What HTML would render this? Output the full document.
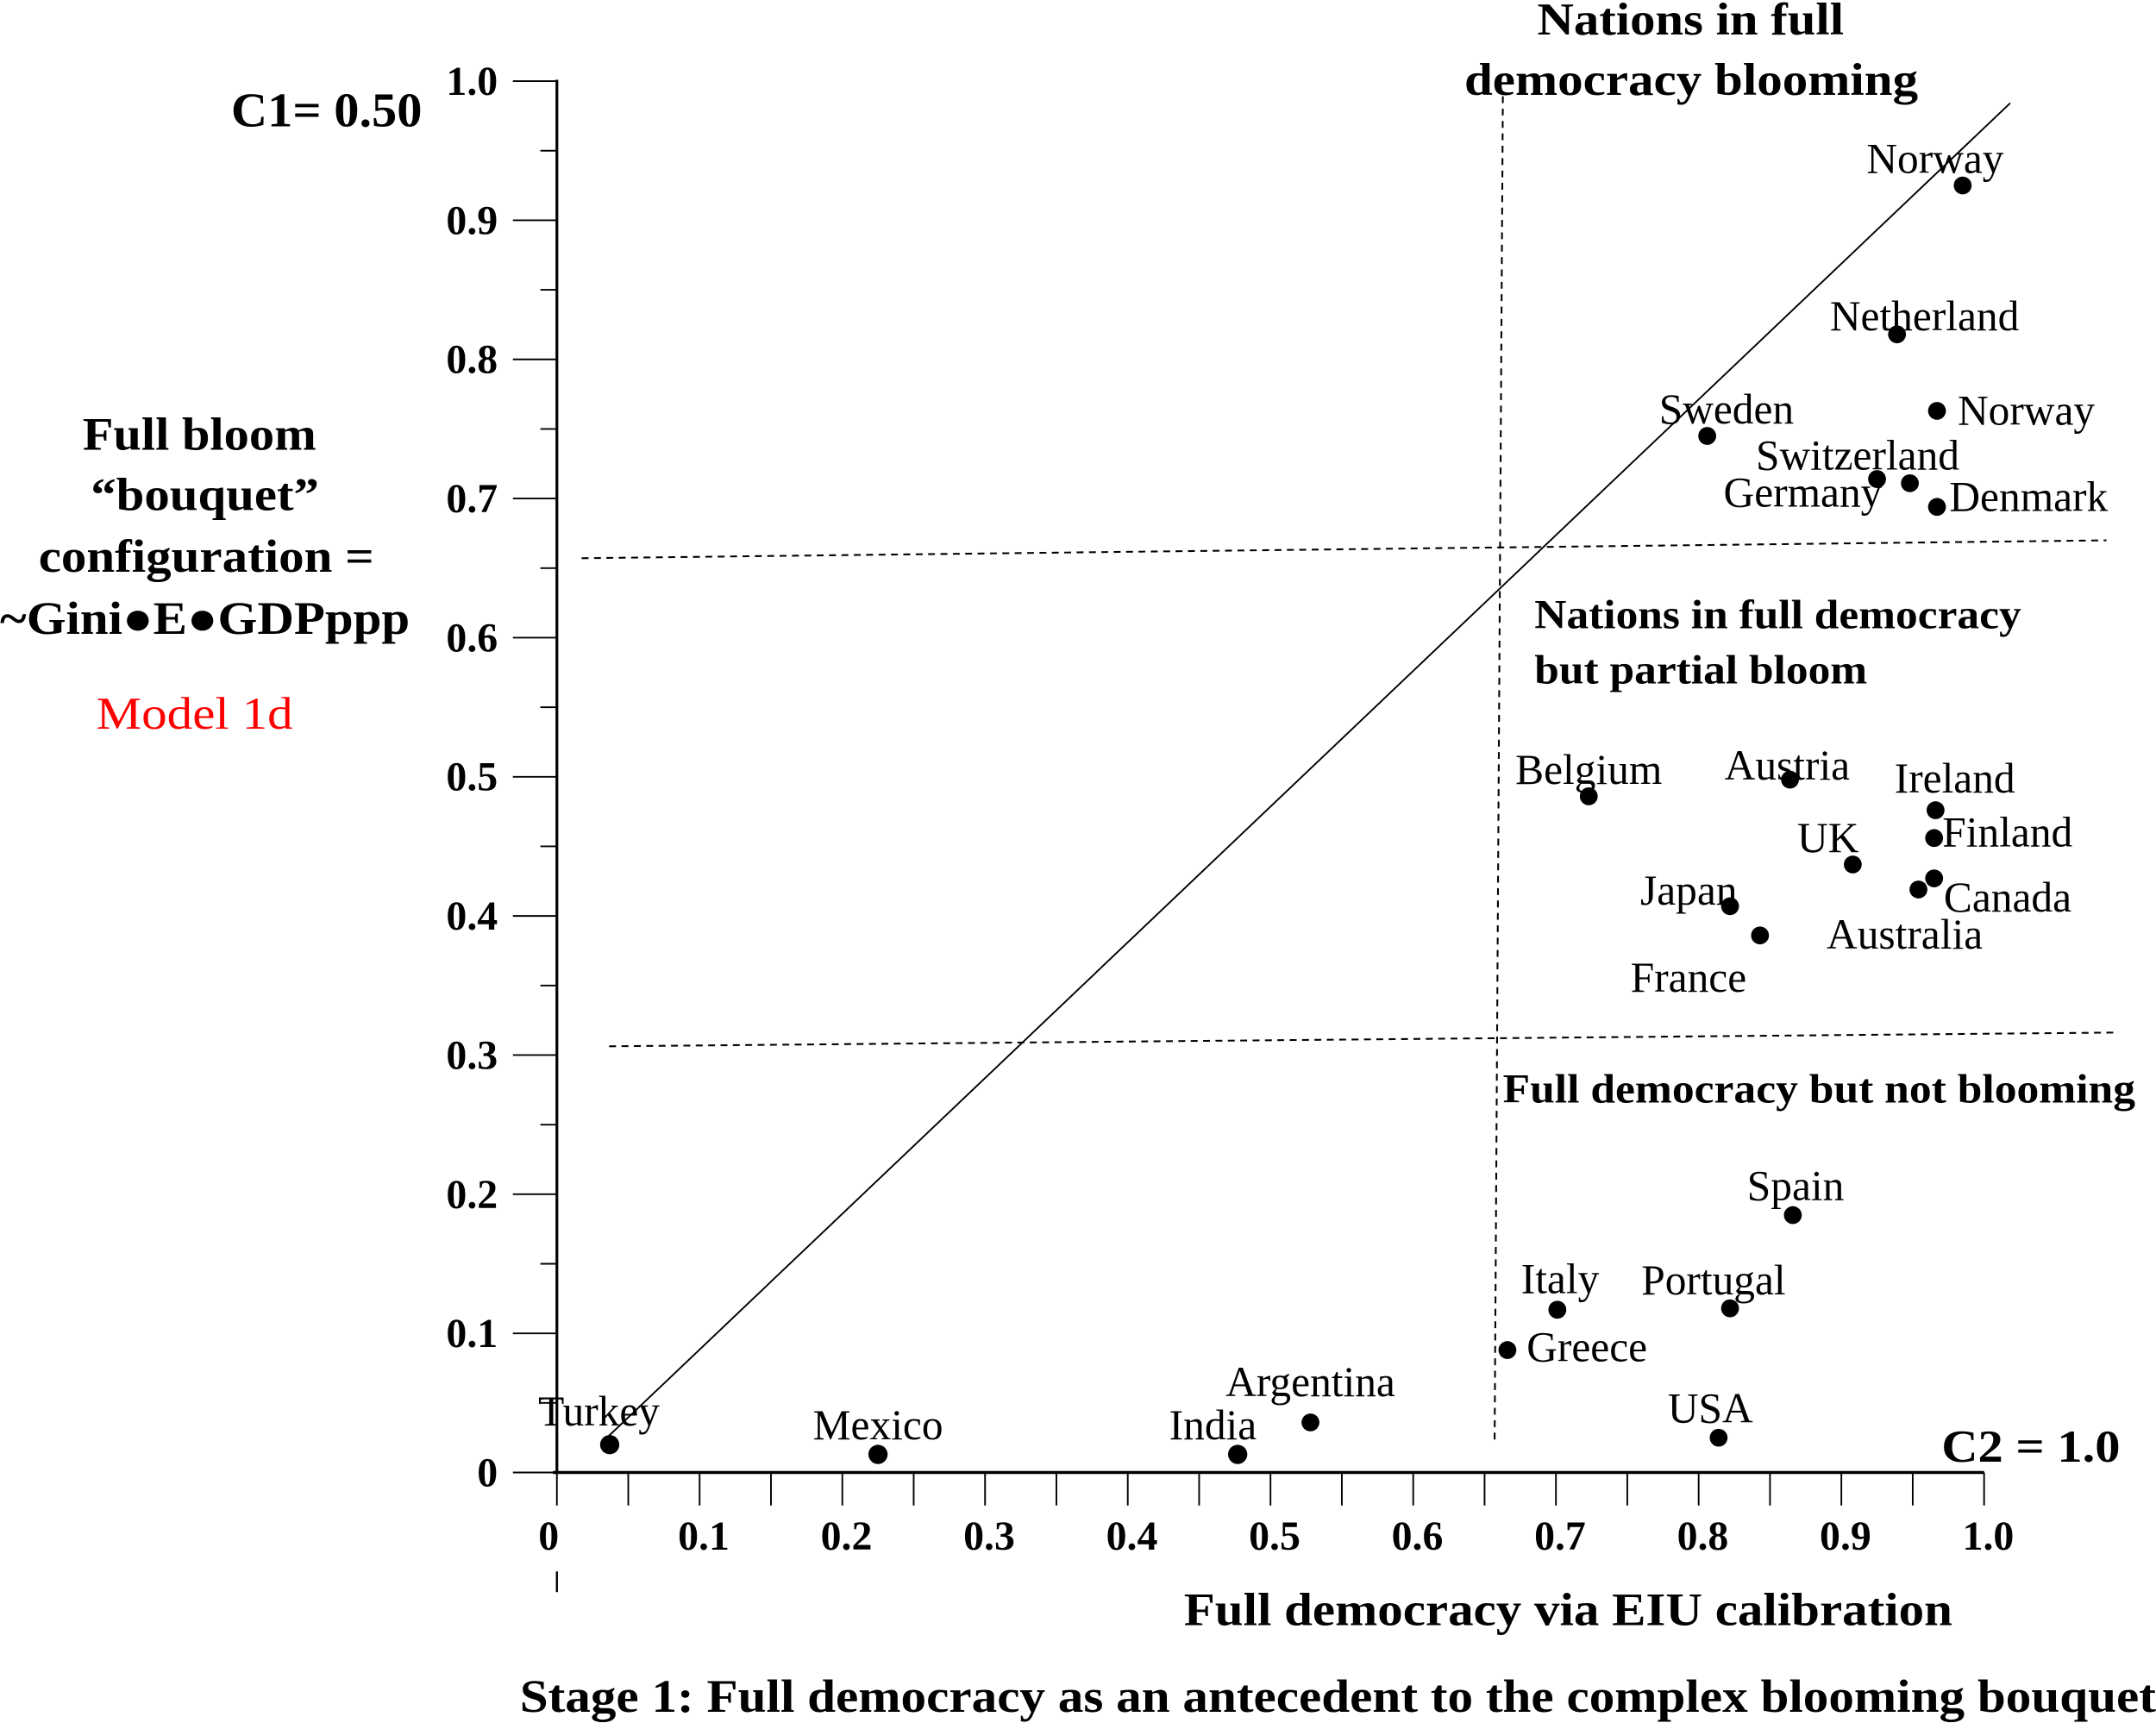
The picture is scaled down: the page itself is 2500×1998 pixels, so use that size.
<!DOCTYPE html>
<html><head><meta charset="utf-8"><style>
html,body{margin:0;padding:0;background:#fff}
svg{display:block}
text{font-family:"Liberation Serif",serif}
.b{font-weight:bold}
</style></head><body>
<svg id="chart" width="2500" height="1998" viewBox="0 0 1568 1253.2" xmlns="http://www.w3.org/2000/svg">
<g id="axes"></g>
<g id="guides">
<line x1="440" y1="1047" x2="1462" y2="75" stroke="#000" stroke-width="1.2"/>
<line x1="1093" y1="70" x2="1087" y2="1050" stroke="#000" stroke-width="1.3" stroke-dasharray="5,4"/>
<line x1="423" y1="406" x2="1532" y2="393" stroke="#000" stroke-width="1.3" stroke-dasharray="5,4"/>
<line x1="443" y1="761" x2="1541" y2="751" stroke="#000" stroke-width="1.3" stroke-dasharray="5,4"/>
</g>
<g id="points"></g>
<g class="b" font-size="33">
<text x="1118" y="25" textLength="223" lengthAdjust="spacingAndGlyphs">Nations in full</text>
<text x="1065" y="69" textLength="330" lengthAdjust="spacingAndGlyphs">democracy blooming</text>
<text x="1116" y="457" font-size="30" textLength="354" lengthAdjust="spacingAndGlyphs">Nations in full democracy</text>
<text x="1116" y="497" font-size="30" textLength="242" lengthAdjust="spacingAndGlyphs">but partial bloom</text>
<text x="1093" y="802" font-size="30" textLength="460" lengthAdjust="spacingAndGlyphs">Full democracy but not blooming</text>
<text x="168" y="92" font-size="35" textLength="139" lengthAdjust="spacingAndGlyphs">C1= 0.50</text>
<text x="1412" y="1063" font-size="33" textLength="130" lengthAdjust="spacingAndGlyphs">C2 = 1.0</text>
<text x="60" y="327" font-size="34" textLength="170" lengthAdjust="spacingAndGlyphs">Full bloom</text>
<text x="66" y="371" font-size="34" textLength="166" lengthAdjust="spacingAndGlyphs">“bouquet”</text>
<text x="28" y="416" font-size="34" textLength="244" lengthAdjust="spacingAndGlyphs">configuration =</text>
<text x="0" y="461" font-size="34" textLength="298" lengthAdjust="spacingAndGlyphs">~Gini●E●GDPppp</text>
<text x="70" y="530" font-size="33" font-weight="normal" fill="#ff0000" textLength="143" lengthAdjust="spacingAndGlyphs">Model 1d</text>
<text x="861" y="1182" font-size="34" textLength="559" lengthAdjust="spacingAndGlyphs">Full democracy via EIU calibration</text>
<text x="378" y="1245" font-size="34" textLength="1190" lengthAdjust="spacingAndGlyphs">Stage 1: Full democracy as an antecedent to the complex blooming bouquet</text>
</g>
</svg>
<script>
const xTicks=[0,0.1,0.2,0.3,0.4,0.5,0.6,0.7,0.8,0.9,1.0];
const xTickLabels=["0","0.1","0.2","0.3","0.4","0.5","0.6","0.7","0.8","0.9","1.0"];
const yTicks=[0,0.1,0.2,0.3,0.4,0.5,0.6,0.7,0.8,0.9,1.0];
const yTickLabels=["0","0.1","0.2","0.3","0.4","0.5","0.6","0.7","0.8","0.9","1.0"];
const countries=["Turkey","Mexico","India","Argentina","USA","Greece","Italy","Portugal","Spain","Belgium","Austria","Ireland","Finland","UK","Canada","Australia","Japan","France","Sweden","Germany","Switzerland","Norway","Denmark","Netherland","Norway"];
const xValues=[0.037,0.225,0.477,0.528,0.814,0.666,0.701,0.822,0.866,0.723,0.864,0.966,0.965,0.908,0.965,0.954,0.822,0.843,0.806,0.925,0.948,0.967,0.967,0.939,0.985];
const yValues=[0.020,0.013,0.013,0.036,0.025,0.088,0.117,0.118,0.185,0.486,0.498,0.476,0.456,0.437,0.427,0.419,0.407,0.386,0.745,0.714,0.711,0.763,0.694,0.818,0.925];
const labelPos=[[-6,-25,"start",-52],[0,-22,"middle"],[-18,-22,"middle"],[0,-30,"middle"],[-6,-22,"middle"],[14,-3,"start"],[2,-23,"middle"],[-12,-21,"middle"],[2,-22,"middle"],[0,-20,"middle"],[-2,-11,"middle"],[14,-24,"middle"],[6,-5,"start"],[-18,-20,"middle"],[7,13,"start"],[-10,32,"middle"],[-30,-12,"middle"],[-52,30,"middle"],[14,-20,"middle"],[-54,9,"middle"],[-38,-21,"middle"],[15,-1,"start"],[9,-8,"start"],[20,-14,"middle"],[-20,-20,"middle"]];
const NS="http://www.w3.org/2000/svg";
const X0=405,X1=1443,Y0=1071,Y1=59;
function sx(v){return X0+v*(X1-X0);}
function sy(v){return Y0-v*(Y0-Y1);}
function mk(tag,attrs,parent){const e=document.createElementNS(NS,tag);for(const k in attrs)e.setAttribute(k,attrs[k]);parent.appendChild(e);return e;}
const axes=document.getElementById('axes');
let e=mk('line',{x1:sx(0),y1:sy(1.0)-1,x2:sx(0),y2:sy(0)+1,stroke:'#000','stroke-width':2},axes);


e=mk('line',{x1:sx(0)-3,y1:sy(0),x2:sx(1.0),y2:sy(0),stroke:'#000','stroke-width':2.2},axes);


e=mk('line',{x1:sx(0),y1:1143,x2:sx(0),y2:1158,stroke:'#000','stroke-width':1.5},axes);


for(let i=0;i<yTicks.length;i++){
  const y=sy(yTicks[i]);
  e=mk('line',{x1:373,y1:y,x2:sx(0),y2:y,stroke:'#000','stroke-width':1.2},axes);
  
  
  if(i<yTicks.length-1){
    const ym=sy((yTicks[i]+yTicks[i+1])/2);
    e=mk('line',{x1:393,y1:ym,x2:sx(0),y2:ym,stroke:'#000','stroke-width':1.2},axes);
    
    
  }
  const t=mk('text',{x:362,y:y+10,'text-anchor':'end','font-size':30,'font-weight':'bold'},axes);
  t.textContent=yTickLabels[i];
  
  
}
for(let i=0;i<xTicks.length;i++){
  const x=sx(xTicks[i]);
  e=mk('line',{x1:x,y1:sy(0),x2:x,y2:1095,stroke:'#000','stroke-width':1.2},axes);
  
  
  if(i<xTicks.length-1){
    const xm=sx((xTicks[i]+xTicks[i+1])/2);
    e=mk('line',{x1:xm,y1:sy(0),x2:xm,y2:1095,stroke:'#000','stroke-width':1.2},axes);
    
    
  }
  const t=mk('text',{x:i==0?x-6:x+3,y:1127,'text-anchor':'middle','font-size':30,'font-weight':'bold'},axes);
  t.textContent=xTickLabels[i];
  
  
}
const pts=document.getElementById('points');
for(let i=0;i<countries.length;i++){
  const cx=sx(xValues[i]),cy=sy(yValues[i]);
  const c=mk('circle',{cx:cx,cy:cy,r:i<3?7:6.5,fill:'#000'},pts);
  
  
  const p=labelPos[i];
  const t=mk('text',{x:cx+p[0],y:cy+p[1]+11,'text-anchor':p[2],'font-size':31},pts);
  if(p[3]!==undefined)t.setAttribute('x',cx+p[3]);
  t.textContent=countries[i];
  
  
}
</script>
</body></html>
